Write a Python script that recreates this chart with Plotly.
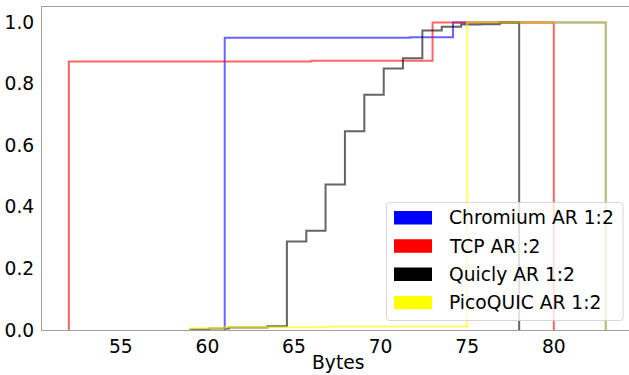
import plotly.graph_objects as go

# ---- data (cumulative step histograms) ----
series_names = ["Chromium AR 1:2", "TCP AR :2", "Quicly AR 1:2", "PicoQUIC AR 1:2"]
series_colors = ["#0000ff", "#ff0000", "#000000", "#ffff00"]

chromium_edges = [61.0, 71.7, 74.18, 83.0]
chromium_cdf = [0.950, 0.952, 1.0]

tcp_edges = [52.0, 66.0, 73.0, 80.0]
tcp_cdf = [0.873, 0.875, 1.0]

quicly_edges = [59.0, 60.12, 61.24, 62.35, 63.47, 64.59, 65.71, 66.82, 67.94,
                69.06, 70.18, 71.29, 72.41, 73.53, 74.65, 75.76, 76.88, 78.0]
quicly_cdf = [0.002, 0.005, 0.008, 0.008, 0.012, 0.288, 0.323, 0.473, 0.646,
              0.765, 0.850, 0.883, 0.974, 0.986, 0.993, 0.994, 1.0]

pico_edges = [59.0, 61.0, 67.0, 75.0, 83.0]
pico_cdf = [0.006, 0.009, 0.011, 1.0]

x_ticks = [55, 60, 65, 70, 75, 80]
y_ticks = [0.0, 0.2, 0.4, 0.6, 0.8, 1.0]
x_label = "Bytes"

all_edges = [chromium_edges, tcp_edges, quicly_edges, pico_edges]
all_cdf = [chromium_cdf, tcp_cdf, quicly_cdf, pico_cdf]

# ---- layout geometry ----
W, H = 629, 375
ML, MR, MT, MB = 42, 0, 7, 45
PW, PH = W - ML - MR, H - MT - MB
PX_PER_UNIT = 17.32
X0 = 50.45
X1 = X0 + PW / PX_PER_UNIT
FONT = "DejaVu Sans"
FS = 18.7


def px2x(px):
    return (px - ML) / PW


def py2y(py):
    return (H - MB - py) / PH


fig = go.Figure()
for name, color, edges, cdf in zip(series_names, series_colors, all_edges, all_cdf):
    xs = [edges[0]] + list(edges)
    ys = [0.0] + list(cdf) + [0.0]
    fig.add_trace(go.Scatter(
        x=xs, y=ys, mode="lines", line=dict(color=color, width=2, shape="hv"),
        opacity=0.6, name=name, showlegend=False, hoverinfo="skip"))

# ---- manual legend (matplotlib style) ----
shapes = []
annotations = []
lx0, lx1, ly0, ly1 = 386.5, 623.0, 202.5, 320.5
r = 3.0
rx, ry = r / PW, r / PH
X_a, X_b = px2x(lx0), px2x(lx1)
Y_a, Y_b = py2y(ly1), py2y(ly0)
path = (f"M {X_a+rx},{Y_a} L {X_b-rx},{Y_a} Q {X_b},{Y_a} {X_b},{Y_a+ry} "
        f"L {X_b},{Y_b-ry} Q {X_b},{Y_b} {X_b-rx},{Y_b} "
        f"L {X_a+rx},{Y_b} Q {X_a},{Y_b} {X_a},{Y_b-ry} "
        f"L {X_a},{Y_a+ry} Q {X_a},{Y_a} {X_a+rx},{Y_a} Z")
shapes.append(dict(type="path", path=path, xref="paper", yref="paper",
                   fillcolor="rgba(255,255,255,0.8)",
                   line=dict(color="rgba(204,204,204,0.8)", width=1), layer="above"))
row_centers = [217.7, 246.0, 274.3, 302.6]
for name, color, cy in zip(series_names, series_colors, row_centers):
    shapes.append(dict(type="rect", xref="paper", yref="paper",
                       x0=px2x(394), x1=px2x(432), y0=py2y(cy + 6.7), y1=py2y(cy - 6.7),
                       fillcolor=color, line=dict(width=0), layer="above"))
    annotations.append(dict(x=px2x(447), y=py2y(cy), xref="paper", yref="paper",
                            text=name, showarrow=False, xanchor="left", yanchor="middle",
                            font=dict(family=FONT, size=FS, color="black")))

annotations.append(dict(x=px2x(337.7), y=py2y(362.5), xref="paper", yref="paper",
                        text=x_label, showarrow=False, xanchor="center", yanchor="middle",
                        font=dict(family=FONT, size=FS, color="black")))

fig.update_layout(
    width=W, height=H, margin=dict(l=ML, r=MR, t=MT, b=MB, pad=0),
    paper_bgcolor="white", plot_bgcolor="white",
    font=dict(family=FONT, size=FS, color="black"),
    shapes=shapes, annotations=annotations, showlegend=False,
    xaxis=dict(range=[X0, X1], tickvals=x_ticks, ticktext=[str(v) for v in x_ticks],
               showgrid=False, zeroline=False, showline=True, mirror=True,
               linecolor="#a0a0a0", linewidth=1, ticks="", ticklabelstandoff=0),
    yaxis=dict(range=[0, 1.05], tickvals=y_ticks, ticktext=[f"{v:.1f}" for v in y_ticks],
               showgrid=False, zeroline=False, showline=True, mirror=False,
               linecolor="#a0a0a0", linewidth=1, ticks="", ticklabelstandoff=3),
)

fig.write_html("out.html")
